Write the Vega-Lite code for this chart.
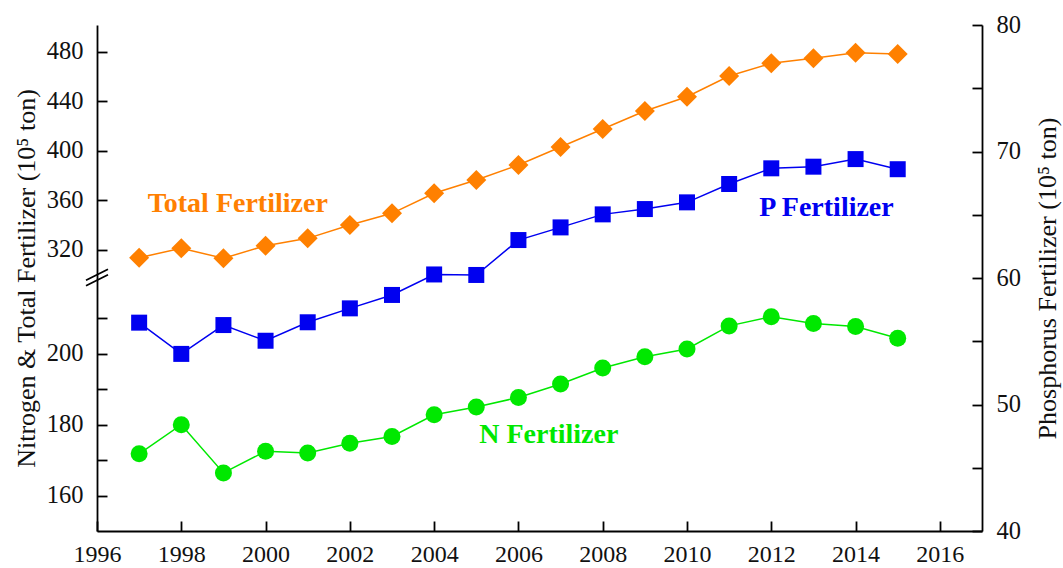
{
  "$schema": "https://vega.github.io/schema/vega-lite/v6.json",
  "width": 885,
  "height": 506,
  "autosize": {"type": "none"},
  "padding": {"left": 97, "top": 25, "right": 81, "bottom": 37},
  "background": "white",
  "config": {
    "view": {"stroke": null},
    "font": "Liberation Serif",
    "axis": {
      "grid": false,
      "labelFlush": false,
      "domainColor": "#000000",
      "domainWidth": 1.8,
      "tickColor": "#000000",
      "tickWidth": 1.8,
      "tickSize": -10,
      "labelFont": "Liberation Serif",
      "labelFontSize": 24.5,
      "labelColor": "#111111",
      "labelPadding": 24,
      "titleFont": "Liberation Serif",
      "titleFontSize": 26,
      "titleFontWeight": "normal",
      "titleColor": "#111111"
    },
    "axisX": {"labelPadding": 21, "labelFontSize": 24}
  },
  "datasets": {
    "fert": [
      {"year": 1997, "series": "Total", "value": 313.8},
      {"year": 1998, "series": "Total", "value": 321.4},
      {"year": 1999, "series": "Total", "value": 313.3},
      {"year": 2000, "series": "Total", "value": 323.5},
      {"year": 2001, "series": "Total", "value": 329.4},
      {"year": 2002, "series": "Total", "value": 340.2},
      {"year": 2003, "series": "Total", "value": 349.6},
      {"year": 2004, "series": "Total", "value": 365.8},
      {"year": 2005, "series": "Total", "value": 376.5},
      {"year": 2006, "series": "Total", "value": 388.6},
      {"year": 2007, "series": "Total", "value": 403.1},
      {"year": 2008, "series": "Total", "value": 417.7},
      {"year": 2009, "series": "Total", "value": 432.2},
      {"year": 2010, "series": "Total", "value": 443.7},
      {"year": 2011, "series": "Total", "value": 460.4},
      {"year": 2012, "series": "Total", "value": 470.7},
      {"year": 2013, "series": "Total", "value": 474.7},
      {"year": 2014, "series": "Total", "value": 479.2},
      {"year": 2015, "series": "Total", "value": 478.2},
      {"year": 1997, "series": "N", "value": 171.8},
      {"year": 1998, "series": "N", "value": 180.0},
      {"year": 1999, "series": "N", "value": 166.4},
      {"year": 2000, "series": "N", "value": 172.5},
      {"year": 2001, "series": "N", "value": 172.0},
      {"year": 2002, "series": "N", "value": 174.8},
      {"year": 2003, "series": "N", "value": 176.7},
      {"year": 2004, "series": "N", "value": 182.8},
      {"year": 2005, "series": "N", "value": 185.0},
      {"year": 2006, "series": "N", "value": 187.7},
      {"year": 2007, "series": "N", "value": 191.5},
      {"year": 2008, "series": "N", "value": 196.0},
      {"year": 2009, "series": "N", "value": 199.2},
      {"year": 2010, "series": "N", "value": 201.4},
      {"year": 2011, "series": "N", "value": 207.9},
      {"year": 2012, "series": "N", "value": 210.5},
      {"year": 2013, "series": "N", "value": 208.6},
      {"year": 2014, "series": "N", "value": 207.7},
      {"year": 2015, "series": "N", "value": 204.4},
      {"year": 1997, "series": "P", "value": 56.47},
      {"year": 1998, "series": "P", "value": 54.0},
      {"year": 1999, "series": "P", "value": 56.28},
      {"year": 2000, "series": "P", "value": 55.04},
      {"year": 2001, "series": "P", "value": 56.5},
      {"year": 2002, "series": "P", "value": 57.6},
      {"year": 2003, "series": "P", "value": 58.66},
      {"year": 2004, "series": "P", "value": 60.28},
      {"year": 2005, "series": "P", "value": 60.24},
      {"year": 2006, "series": "P", "value": 63.0},
      {"year": 2007, "series": "P", "value": 64.0},
      {"year": 2008, "series": "P", "value": 65.03},
      {"year": 2009, "series": "P", "value": 65.45},
      {"year": 2010, "series": "P", "value": 65.98},
      {"year": 2011, "series": "P", "value": 67.43},
      {"year": 2012, "series": "P", "value": 68.67},
      {"year": 2013, "series": "P", "value": 68.8},
      {"year": 2014, "series": "P", "value": 69.4},
      {"year": 2015, "series": "P", "value": 68.6}
    ]
  },
  "data": {"name": "fert"},
  "layer": [
    {
      "layer": [
        {
          "transform": [{"filter": "datum.series == 'Total'"}],
          "mark": {"type": "line", "color": "#FF8000", "strokeWidth": 1.5},
          "encoding": {
            "x": {"field": "year", "type": "quantitative", "scale": {"domain": [1996, 2017], "nice": false, "zero": false}, "axis": {"values": [1996, 1998, 2000, 2002, 2004, 2006, 2008, 2010, 2012, 2014, 2016], "format": "d", "title": null}},
            "y": {"field": "value", "type": "quantitative", "scale": {"domain": [150, 221.7, 298.2, 501.6], "range": [506, 252, 252, 0], "zero": false, "nice": false}, "axis": {"orient": "left", "values": [160, 170, 180, 190, 200, 210, 320, 360, 400, 440, 480], "labelExpr": "datum.value % 20 == 10 ? '' : datum.label", "title": "Nitrogen & Total Fertilizer (10⁵ ton)", "titlePadding": 7}}
          }
        },
        {
          "transform": [{"filter": "datum.series == 'N'"}],
          "mark": {"type": "line", "color": "#00E800", "strokeWidth": 1.5},
          "encoding": {
            "x": {"field": "year", "type": "quantitative", "scale": {"domain": [1996, 2017], "nice": false, "zero": false}, "axis": {"values": [1996, 1998, 2000, 2002, 2004, 2006, 2008, 2010, 2012, 2014, 2016], "format": "d", "title": null}},
            "y": {"field": "value", "type": "quantitative", "scale": {"domain": [150, 221.7, 298.2, 501.6], "range": [506, 252, 252, 0], "zero": false, "nice": false}, "axis": {"orient": "left", "values": [160, 170, 180, 190, 200, 210, 320, 360, 400, 440, 480], "labelExpr": "datum.value % 20 == 10 ? '' : datum.label", "title": "Nitrogen & Total Fertilizer (10⁵ ton)", "titlePadding": 7}}
          }
        },
        {
          "transform": [{"filter": "datum.series == 'Total'"}],
          "mark": {"type": "point", "shape": "diamond", "size": 400, "filled": true, "opacity": 1, "color": "#FF8000"},
          "encoding": {
            "x": {"field": "year", "type": "quantitative", "scale": {"domain": [1996, 2017], "nice": false, "zero": false}, "axis": {"values": [1996, 1998, 2000, 2002, 2004, 2006, 2008, 2010, 2012, 2014, 2016], "format": "d", "title": null}},
            "y": {"field": "value", "type": "quantitative", "scale": {"domain": [150, 221.7, 298.2, 501.6], "range": [506, 252, 252, 0], "zero": false, "nice": false}, "axis": {"orient": "left", "values": [160, 170, 180, 190, 200, 210, 320, 360, 400, 440, 480], "labelExpr": "datum.value % 20 == 10 ? '' : datum.label", "title": "Nitrogen & Total Fertilizer (10⁵ ton)", "titlePadding": 7}}
          }
        },
        {
          "transform": [{"filter": "datum.series == 'N'"}],
          "mark": {"type": "point", "shape": "circle", "size": 289, "filled": true, "opacity": 1, "color": "#00E800"},
          "encoding": {
            "x": {"field": "year", "type": "quantitative", "scale": {"domain": [1996, 2017], "nice": false, "zero": false}, "axis": {"values": [1996, 1998, 2000, 2002, 2004, 2006, 2008, 2010, 2012, 2014, 2016], "format": "d", "title": null}},
            "y": {"field": "value", "type": "quantitative", "scale": {"domain": [150, 221.7, 298.2, 501.6], "range": [506, 252, 252, 0], "zero": false, "nice": false}, "axis": {"orient": "left", "values": [160, 170, 180, 190, 200, 210, 320, 360, 400, 440, 480], "labelExpr": "datum.value % 20 == 10 ? '' : datum.label", "title": "Nitrogen & Total Fertilizer (10⁵ ton)", "titlePadding": 7}}
          }
        },
        {
          "data": {"values": [{"label": "Total Fertilizer"}]},
          "mark": {"type": "text", "font": "Liberation Serif", "fontSize": 28, "fontWeight": "bold", "color": "#FF8000", "align": "center", "baseline": "middle"},
          "encoding": {
            "text": {"field": "label", "type": "nominal"},
            "x": {"datum": 1999.34, "type": "quantitative", "scale": {"domain": [1996, 2017], "nice": false, "zero": false}},
            "y": {"datum": 357.1, "type": "quantitative", "scale": {"domain": [150, 221.7, 298.2, 501.6], "range": [506, 252, 252, 0], "zero": false, "nice": false}}
          }
        },
        {
          "data": {"values": [{"label": "N Fertilizer"}]},
          "mark": {"type": "text", "font": "Liberation Serif", "fontSize": 28, "fontWeight": "bold", "color": "#00E800", "align": "center", "baseline": "middle"},
          "encoding": {
            "text": {"field": "label", "type": "nominal"},
            "x": {"datum": 2006.72, "type": "quantitative", "scale": {"domain": [1996, 2017], "nice": false, "zero": false}},
            "y": {"datum": 177.2, "type": "quantitative", "scale": {"domain": [150, 221.7, 298.2, 501.6], "range": [506, 252, 252, 0], "zero": false, "nice": false}}
          }
        },
        {
          "data": {"values": [{"label": "break"}]},
          "mark": {"type": "point", "shape": "M-1,0.3L1,-0.7M-1,0.8L1,-0.2", "size": 484, "filled": false, "opacity": 1, "stroke": "#000000", "strokeWidth": 1.8},
          "encoding": {
            "x": {"datum": 1996, "type": "quantitative", "scale": {"domain": [1996, 2017], "nice": false, "zero": false}},
            "y": {"datum": 260, "type": "quantitative", "scale": {"domain": [150, 221.7, 298.2, 501.6], "range": [506, 252, 252, 0], "zero": false, "nice": false}}
          }
        }
      ]
    },
    {
      "layer": [
        {
          "transform": [{"filter": "datum.series == 'P'"}],
          "mark": {"type": "line", "color": "#0000F0", "strokeWidth": 1.5},
          "encoding": {
            "x": {"field": "year", "type": "quantitative", "scale": {"domain": [1996, 2017], "nice": false, "zero": false}, "axis": {"values": [1996, 1998, 2000, 2002, 2004, 2006, 2008, 2010, 2012, 2014, 2016], "format": "d", "title": null}},
            "y": {"field": "value", "type": "quantitative", "scale": {"domain": [40, 80], "zero": false, "nice": false}, "axis": {"orient": "right", "values": [40, 45, 50, 55, 60, 65, 70, 75, 80], "labelExpr": "datum.value % 10 == 5 ? '' : datum.label", "title": "Phosphorus Fertilizer (10⁵ ton)", "titleAngle": 270, "titleBaseline": "top", "titlePadding": 14}}
          }
        },
        {
          "transform": [{"filter": "datum.series == 'P'"}],
          "mark": {"type": "point", "shape": "square", "size": 256, "filled": true, "opacity": 1, "color": "#0000F0"},
          "encoding": {
            "x": {"field": "year", "type": "quantitative", "scale": {"domain": [1996, 2017], "nice": false, "zero": false}, "axis": {"values": [1996, 1998, 2000, 2002, 2004, 2006, 2008, 2010, 2012, 2014, 2016], "format": "d", "title": null}},
            "y": {"field": "value", "type": "quantitative", "scale": {"domain": [40, 80], "zero": false, "nice": false}, "axis": {"orient": "right", "values": [40, 45, 50, 55, 60, 65, 70, 75, 80], "labelExpr": "datum.value % 10 == 5 ? '' : datum.label", "title": "Phosphorus Fertilizer (10⁵ ton)", "titleAngle": 270, "titleBaseline": "top", "titlePadding": 14}}
          }
        },
        {
          "data": {"values": [{"label": "P Fertilizer"}]},
          "mark": {"type": "text", "font": "Liberation Serif", "fontSize": 28, "fontWeight": "bold", "color": "#0000F0", "align": "center", "baseline": "middle"},
          "encoding": {
            "text": {"field": "label", "type": "nominal"},
            "x": {"datum": 2013.31, "type": "quantitative", "scale": {"domain": [1996, 2017], "nice": false, "zero": false}},
            "y": {"datum": 65.53, "type": "quantitative", "scale": {"domain": [40, 80], "zero": false, "nice": false}}
          }
        }
      ]
    }
  ],
  "resolve": {"scale": {"y": "independent"}}
}
